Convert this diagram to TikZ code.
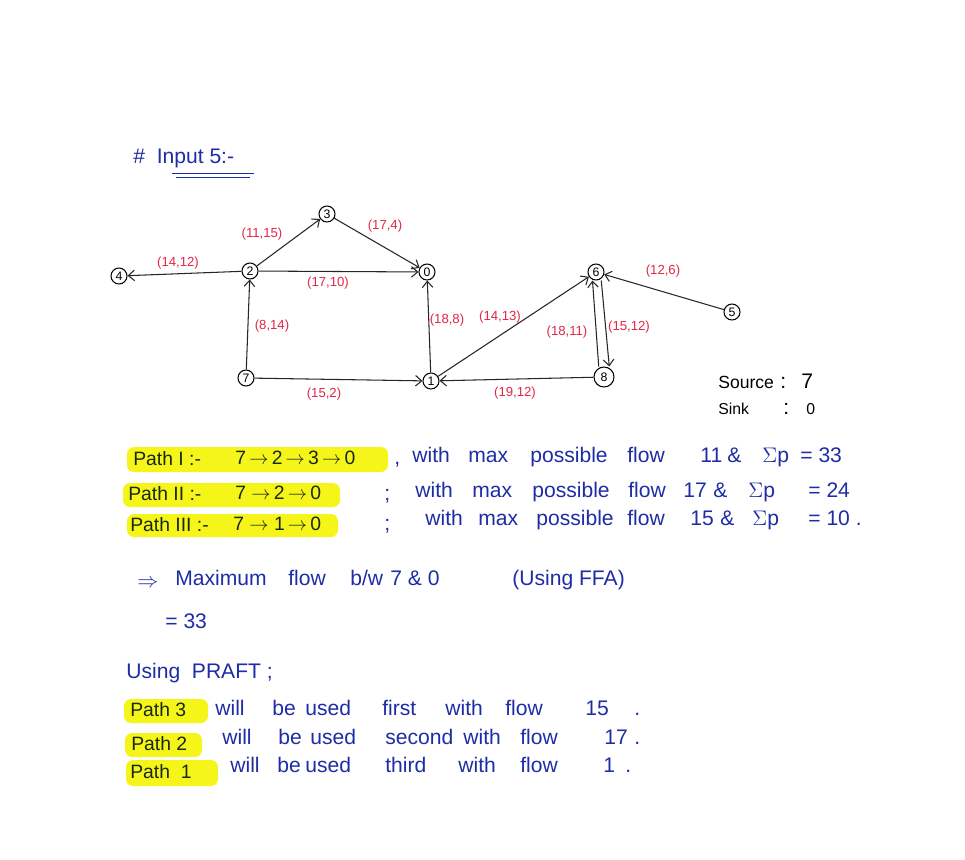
\documentclass[tikz,border=0pt]{standalone}
\usepackage{fontspec}
\setmainfont{Liberation Sans}
\usetikzlibrary{arrows.meta}

\definecolor{inkblue}{RGB}{30,45,165}
\definecolor{inkred}{RGB}{225,40,70}
\definecolor{markeryellow}{RGB}{245,245,25}
\definecolor{inkdark}{RGB}{25,40,20}

\tikzset{
  vertex/.style={circle, draw, line width=0.6pt, inner sep=0pt, minimum size=0.32cm,
    font=\fontsize{7}{8}\selectfont},
  flowedge/.style={-{Straight Barb[length=3.5pt,width=6pt]}, line width=0.6pt, draw=black!85},
  flowlabel/.style={text=inkred, inner sep=0pt, font=\fontsize{7.5}{9}\selectfont},
  handtext/.style={text=inkblue, inner sep=0pt, anchor=base west, font=\fontsize{12}{14}\selectfont},
  hilite/.style={fill=markeryellow, rounded corners=4pt},
  hitext/.style={text=inkdark, inner sep=0pt, anchor=base west, font=\fontsize{11}{13}\selectfont}
}

\begin{document}
\begin{tikzpicture}[x=0.02cm, y=-0.02cm]
    \useasboundingbox[fill=white] (0,0) rectangle (965,860);
    % title
    \node[handtext] (title) at (133,163) {\# \ Input 5:-};
    \draw[inkblue, line width=0.5pt] (172,173) -- (254,173);
    \draw[inkblue, line width=0.5pt] (176,177) -- (250,177);
    % vertices
    \node[vertex] (v4) at (119,276) {4};
    \node[vertex] (v2) at (250,271) {2};
    \node[vertex] (v3) at (327,214) {3};
    \node[vertex] (v0) at (427,272) {0};
    \node[vertex] (v7) at (246,378) {7};
    \node[vertex] (v1) at (431,381) {1};
    \node[vertex] (v6) at (596,272) {6};
    \node[vertex, minimum width=0.4cm] (v8) at (604,377) {8};
    \node[vertex] (v5) at (732,312) {5};
    % edges
    \draw[flowedge] (v2) -- (v4);
    \draw[flowedge] (v2) -- (v3);
    \draw[flowedge] (v3) -- (v0);
    \draw[flowedge] (v2) -- (v0);
    \draw[flowedge] (v7) -- (v2);
    \draw[flowedge] (v7) -- (v1);
    \draw[flowedge] (v1) -- (v0);
    \draw[flowedge] (v1) -- (v6);
    \draw[flowedge] (v8) -- (v1);
    \draw[flowedge] ([xshift=-3pt]v8.north) -- ([xshift=-2pt]v6.south);
    \draw[flowedge] ([xshift=3pt]v6.south) -- ([xshift=3pt]v8.north);
    \draw[flowedge] (v5) -- (v6);
    % capacities / flows
    \node[flowlabel] (l24) at (178,263) {(14,12)};
    \node[flowlabel] (l23) at (262,234) {(11,15)};
    \node[flowlabel] (l30) at (385,226) {(17,4)};
    \node[flowlabel] (l20) at (328,283) {(17,10)};
    \node[flowlabel] (l72) at (272,326) {(8,14)};
    \node[flowlabel] (l71) at (324,394) {(15,2)};
    \node[flowlabel] (l10) at (447,320) {(18,8)};
    \node[flowlabel] (l16) at (500,317) {(14,13)};
    \node[flowlabel] (l81) at (515,393) {(19,12)};
    \node[flowlabel] (l86) at (567,332) {(18,11)};
    \node[flowlabel] (l68) at (629,327) {(15,12)};
    \node[flowlabel] (l56) at (663,271) {(12,6)};
    % source and sink
    \node[handtext, font=\fontsize{10}{12}\selectfont, text=black] (src) at (718,388) {Source};
    \node[handtext, text=black] (srccol) at (780,388) {:};
    \node[handtext, text=black] (srcval) at (801,388) {7};
    \node[handtext, font=\fontsize{9}{11}\selectfont, text=black] (snk) at (718,414) {Sink};
    \node[handtext, text=black] (snkcol) at (783,414) {:};
    \node[handtext, text=black, font=\fontsize{9}{11}\selectfont] (snkval) at (806,414) {0};
    % augmenting paths
    \fill[hilite] (127,447) rectangle (388,472);
    \fill[hilite] (123,483) rectangle (340,507);
    \fill[hilite] (127,514) rectangle (338,537);
    \node[hitext] (p1) at (133,465) {Path I :-};
    \node[hitext] (p1r) at (235,464) {7$\,\rightarrow\,$2$\,\rightarrow\,$3$\,\rightarrow\,$0};
    \node[hitext] (p2) at (128,500) {Path II :-};
    \node[hitext] (p2r) at (235,499) {7$\;\rightarrow\,$2$\,\rightarrow\,$0};
    \node[hitext] (p3) at (130,531) {Path III :-};
    \node[hitext] (p3r) at (233,530) {7$\;\rightarrow\;$1$\,\rightarrow\,$0};
    \node[handtext] (s1) at (394,464) {,};
    \node[handtext] (s2) at (384,500) {;};
    \node[handtext] (s3) at (384,530) {;};
    \foreach \x/\w [count=\i] in {412/with,468/max,530/possible,627/flow,700/11,727/\&,762/$\Sigma$p,800/= 33}
      \node[handtext] (ra\i) at (\x,462) {\w};
    \foreach \x/\w [count=\i] in {415/with,472/max,532/possible,628/flow,683/17,713/\&,748/$\Sigma$p,808/= 24}
      \node[handtext] (rb\i) at (\x,497) {\w};
    \foreach \x/\w [count=\i] in {425/with,478/max,536/possible,627/flow,690/15,720/\&,752/$\Sigma$p,808/= 10 .}
      \node[handtext] (rc\i) at (\x,525) {\w};
    % result
    \node[handtext] (imp) at (137,587) {$\Rightarrow$};
    \foreach \x/\w [count=\i] in {175/Maximum,288/flow,350/{b/w},390/7 \& 0,512/(Using FFA)}
      \node[handtext] (res\i) at (\x,585) {\w};
    \node[handtext] (resval) at (165,628) {= 33};
    % PRAFT order
    \node[handtext] (praft) at (126,678) {Using \ PRAFT ;};
    \fill[hilite] (124,699) rectangle (208,723);
    \fill[hilite] (125,733) rectangle (202,757);
    \fill[hilite] (126,760) rectangle (218,786);
    \node[hitext] (q3) at (130,716) {Path 3};
    \node[hitext] (q2) at (131,750) {Path 2};
    \node[hitext] (q1) at (130,778) {Path \ 1};
    \foreach \x/\w [count=\i] in {215/will,272/be,305/used,382/first,445/with,505/flow,585/15,634/.}
      \node[handtext] (ua\i) at (\x,715) {\w};
    \foreach \x/\w [count=\i] in {222/will,278/be,310/used,385/second,463/with,520/flow,604/17,634/.}
      \node[handtext] (ub\i) at (\x,744) {\w};
    \foreach \x/\w [count=\i] in {230/will,277/be,305/used,385/third,458/with,520/flow,603/1,625/.}
      \node[handtext] (uc\i) at (\x,772) {\w};
\end{tikzpicture}
\end{document}
